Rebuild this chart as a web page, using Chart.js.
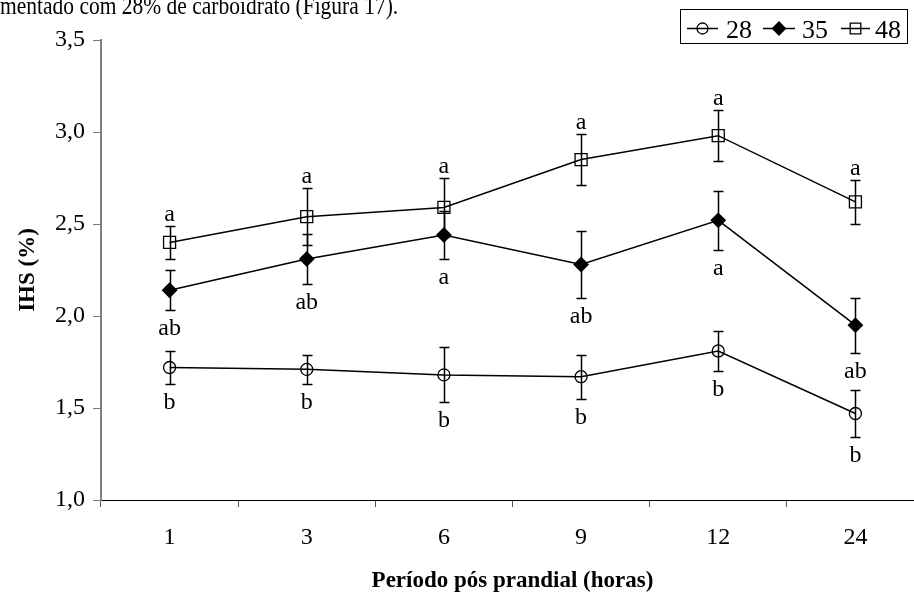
<!DOCTYPE html>
<html>
<head>
<meta charset="utf-8">
<script src="https://cdn.jsdelivr.net/npm/chart.js@4/dist/chart.umd.min.js"></script>
<style>
  html, body { margin: 0; padding: 0; background: #fff; overflow: hidden; width: 914px; height: 598px; }
  #wrap { position: absolute; left: 0; top: 0; width: 914px; height: 598px; }
  #c { display: block; width: 914px; height: 598px; }
  #caption { position: absolute; left: 0; top: -4px; font-family: "Liberation Serif", serif; font-size: 21.5px; line-height: 22px; color: #000; white-space: nowrap; z-index: 2; transform: scaleY(1.2); transform-origin: 0 18.3px; }
</style>
</head>
<body>
<div id="wrap"><canvas id="c" width="914" height="598"></canvas></div>
<div id="caption">mentado com 28% de carboidrato (Figura 17).</div>
<script>
// ---- data ----
const categories = ["1", "3", "6", "9", "12", "24"];
const seriesNames = ["28", "35", "48"];
const values28 = [1.72, 1.71, 1.68, 1.67, 1.81, 1.47];
const errors28 = [0.09, 0.08, 0.15, 0.12, 0.11, 0.13];
const letters28 = ["b", "b", "b", "b", "b", "b"];
const values35 = [2.14, 2.31, 2.44, 2.28, 2.52, 1.95];
const errors35 = [0.11, 0.135, 0.13, 0.18, 0.16, 0.15];
const letters35 = ["ab", "ab", "a", "ab", "a", "ab"];
const values48 = [2.40, 2.54, 2.59, 2.85, 2.98, 2.62];
const errors48 = [0.09, 0.155, 0.16, 0.14, 0.14, 0.12];
const letters48 = ["a", "a", "a", "a", "a", "a"];
const yTicks = [1.0, 1.5, 2.0, 2.5, 3.0, 3.5];

const SERIF = "'Liberation Serif', 'Times New Roman', serif";
// the plot area of the original runs ~10px past the right edge of the picture
const PLOT_RIGHT = 924;

const datasets = [
  { label: seriesNames[0], data: values28, errors: errors28, letters: letters28, letterPos: "below",
    pointStyle: "circle", pointRadius: 6, pointBackgroundColor: "rgba(0,0,0,0)" },
  { label: seriesNames[1], data: values35, errors: errors35, letters: letters35, letterPos: "below",
    pointStyle: "rectRot", pointRadius: 7, pointBackgroundColor: "#000" },
  { label: seriesNames[2], data: values48, errors: errors48, letters: letters48, letterPos: "above",
    pointStyle: "rect", pointRadius: 8.5, pointBackgroundColor: "rgba(0,0,0,0)" }
].map(d => Object.assign({
  borderColor: "#000", borderWidth: 1.5, pointBorderColor: "#000", pointBorderWidth: 1.3,
  fill: false, tension: 0, pointHoverRadius: d.pointRadius
}, d));

const extendPlot = {
  id: "extendPlot",
  afterLayout(chart) {
    const x = chart.scales.x;
    x.right = PLOT_RIGHT;
    x.width = PLOT_RIGHT - x.left;
    x.configure();
    chart.chartArea.right = PLOT_RIGHT;
    chart.chartArea.width = PLOT_RIGHT - chart.chartArea.left;
  }
};

const errorBarPlugin = {
  id: "errorBars",
  afterDatasetsDraw(chart) {
    const ctx = chart.ctx;
    const y = chart.scales.y;
    ctx.save();
    ctx.strokeStyle = "#000";
    ctx.lineWidth = 1.5;
    chart.data.datasets.forEach((ds, di) => {
      const meta = chart.getDatasetMeta(di);
      meta.data.forEach((pt, i) => {
        const v = ds.data[i], e = ds.errors[i];
        const yt = Math.round(y.getPixelForValue(v + e)) + 0.5;
        const yb = Math.round(y.getPixelForValue(v - e)) + 0.5;
        const x = Math.round(pt.x) + 0.5;
        ctx.beginPath();
        ctx.moveTo(x, yt); ctx.lineTo(x, yb);
        ctx.moveTo(x - 5, yt); ctx.lineTo(x + 5, yt);
        ctx.moveTo(x - 5, yb); ctx.lineTo(x + 5, yb);
        ctx.stroke();
        ctx.fillStyle = "#000";
        ctx.font = "24px " + SERIF;
        ctx.textAlign = "center";
        ctx.textBaseline = "alphabetic";
        if (ds.letterPos === "above") ctx.fillText(ds.letters[i], pt.x, yt - 6);
        else ctx.fillText(ds.letters[i], pt.x, yb + 24);
      });
    });
    ctx.restore();
  }
};

const legendPlugin = {
  id: "boxLegend",
  afterDraw(chart) {
    const ctx = chart.ctx;
    ctx.save();
    ctx.fillStyle = "#fff";
    ctx.fillRect(680, 9, 228, 35);
    ctx.strokeStyle = "#000";
    ctx.lineWidth = 1;
    ctx.strokeRect(680.5, 9.5, 227, 34);
    const items = [
      { lineX: 687, w: 31, textX: 726 },
      { lineX: 763, w: 32, textX: 802 },
      { lineX: 841, w: 29, textX: 875 }
    ];
    const cy = 28.5;
    chart.data.datasets.forEach((ds, i) => {
      const it = items[i];
      ctx.strokeStyle = "#000";
      ctx.lineWidth = 1.5;
      ctx.beginPath();
      ctx.moveTo(it.lineX, cy); ctx.lineTo(it.lineX + it.w, cy);
      ctx.stroke();
      ctx.fillStyle = ds.pointBackgroundColor;
      ctx.strokeStyle = "#000";
      ctx.lineWidth = 1.3;
      const r = ds.pointStyle === "rect" ? 7.5 : (ds.pointStyle === "rectRot" ? 6.5 : 5.5);
      Chart.helpers.drawPoint(ctx, { pointStyle: ds.pointStyle, radius: r, borderWidth: 1.3 }, it.lineX + it.w / 2, cy);
      ctx.fillStyle = "#000";
      ctx.font = "26px " + SERIF;
      ctx.textAlign = "left";
      ctx.textBaseline = "alphabetic";
      ctx.fillText(ds.label, it.textX, 37.5);
    });
    ctx.restore();
  }
};

new Chart(document.getElementById("c"), {
  type: "line",
  data: { labels: categories, datasets: datasets },
  options: {
    responsive: false,
    maintainAspectRatio: false,
    devicePixelRatio: 1,
    animation: false,
    events: [],
    layout: { padding: { left: 0, right: 0, top: 40, bottom: 0 } },
    plugins: { legend: { display: false }, tooltip: { enabled: false } },
    scales: {
      x: {
        type: "category",
        offset: true,
        afterFit: s => { s.height = 98; },
        grid: { offset: true, drawOnChartArea: false, drawTicks: true, tickLength: 7, color: "#555", lineWidth: 1 },
        border: { display: true, color: "#000", width: 1 },
        ticks: { color: "#000", font: { family: SERIF, size: 24 }, padding: 16, maxRotation: 0 },
        title: { display: true, text: "Período pós prandial (horas)", color: "#000",
                 font: { family: SERIF, size: 23, weight: "bold" }, padding: { top: 0, bottom: 3 } }
      },
      y: {
        min: 1.0, max: 3.5,
        afterFit: s => { s.width = 101; },
        afterBuildTicks: s => { s.ticks = yTicks.map(v => ({ value: v })); },
        grid: { drawOnChartArea: false, drawTicks: true, tickLength: 8, color: "#777", lineWidth: 1 },
        border: { display: true, color: "#808080", width: 2 },
        ticks: { color: "#000", font: { family: SERIF, size: 24 }, padding: 8,
                 callback: v => v.toFixed(1).replace(".", ",") },
        title: { display: true, text: "IHS (%)", color: "#000",
                 font: { family: SERIF, size: 23, weight: "bold" }, padding: { top: 14, bottom: 0 } }
      }
    }
  },
  plugins: [extendPlot, errorBarPlugin, legendPlugin]
});
</script>
</body>
</html>
